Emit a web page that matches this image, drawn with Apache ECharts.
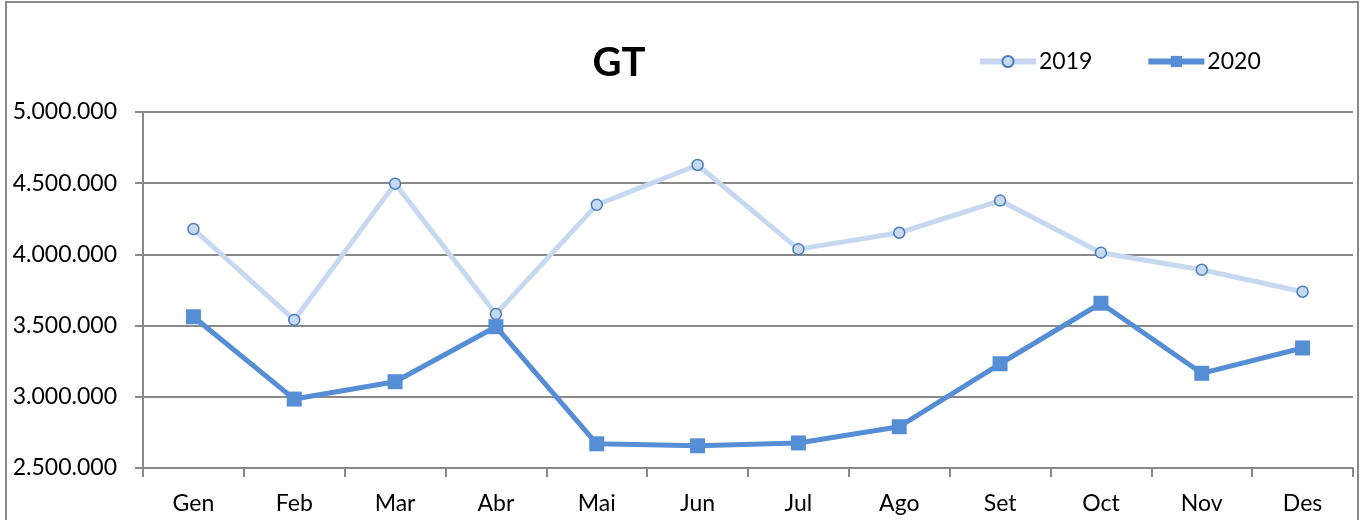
<!DOCTYPE html>
<html>
<head>
<meta charset="utf-8">
<script src="https://cdn.jsdelivr.net/npm/echarts@6/dist/echarts.min.js"></script>
<style>html,body{margin:0;padding:0;background:#fff}#c{width:1366px;height:520px}</style>
</head>
<body>
<div id="c"></div>
<script>
const categories = ['Gen','Feb','Mar','Abr','Mai','Jun','Jul','Ago','Set','Oct','Nov','Des'];
const values2019 = [4178000, 3540000, 4497000, 3581000, 4348000, 4628000, 4037000, 4152000, 4378000, 4012000, 3892000, 3738000];
const values2020 = [3562000, 2984000, 3106000, 3492000, 2670000, 2656000, 2676000, 2790000, 3232000, 3657000, 3165000, 3343000];
const yTicks = { min: 2500000, max: 5000000, interval: 500000 };

const FONT = 'Lato, "Open Sans", "Noto Sans", sans-serif';
function fmt(v){ return String(Math.round(v)).replace(/\B(?=(\d{3})+(?!\d))/g, '.'); }

const chart = echarts.init(document.getElementById('c'), null, {renderer:'canvas'});
chart.setOption({
  animation: false,
  backgroundColor: '#fff',
  graphic: [{
    type: 'rect', shape: {x: 6, y: 2, width: 1352, height: 540},
    style: {fill: 'none', stroke: '#898989', lineWidth: 2}, silent: true, z: -1
  }],
  title: {
    text: 'GT', left: 614, top: 38, textAlign: 'center',
    textStyle: {fontFamily: FONT, fontWeight: 'bold', fontSize: 40, color: '#000'}
  },
  legend: {
    top: 50, left: 977, padding: 0, itemGap: 53, itemWidth: 56, itemHeight: 14,
    lineStyle: {width: 6},
    textStyle: {fontFamily: FONT, fontSize: 23, color: '#000', padding: [0,0,0,-2]},
    data: ['2019','2020']
  },
  grid: {left: 143, right: 13, top: 112, bottom: 52, containLabel: false},
  xAxis: {
    type: 'category', data: categories, boundaryGap: true,
    axisLine: {lineStyle: {color: '#898989', width: 2}},
    axisTick: {show: true, length: 9, inside: false, lineStyle: {color: '#898989', width: 2}},
    axisLabel: {fontFamily: FONT, fontSize: 23, color: '#000', margin: 24}
  },
  yAxis: {
    type: 'value', min: yTicks.min, max: yTicks.max, interval: yTicks.interval,
    axisLine: {show: true, lineStyle: {color: '#898989', width: 2}},
    axisTick: {show: true, length: 8, lineStyle: {color: '#898989', width: 2}},
    splitLine: {lineStyle: {color: '#898989', width: 2}},
    axisLabel: {fontFamily: FONT, fontSize: 23, color: '#000', margin: 26, formatter: fmt}
  },
  series: [
    {
      name: '2019', type: 'line', data: values2019,
      symbol: 'circle', symbolSize: 11,
      lineStyle: {color: '#C6D9F1', width: 5},
      itemStyle: {color: '#C6D9F1', borderColor: '#4A7EBB', borderWidth: 1.5},
      z: 2
    },
    {
      name: '2020', type: 'line', data: values2020,
      symbol: 'rect', symbolSize: 15,
      lineStyle: {color: '#558ED5', width: 5},
      itemStyle: {color: '#558ED5', borderColor: '#558ED5', borderWidth: 0},
      z: 3
    }
  ]
});
</script>
</body>
</html>
